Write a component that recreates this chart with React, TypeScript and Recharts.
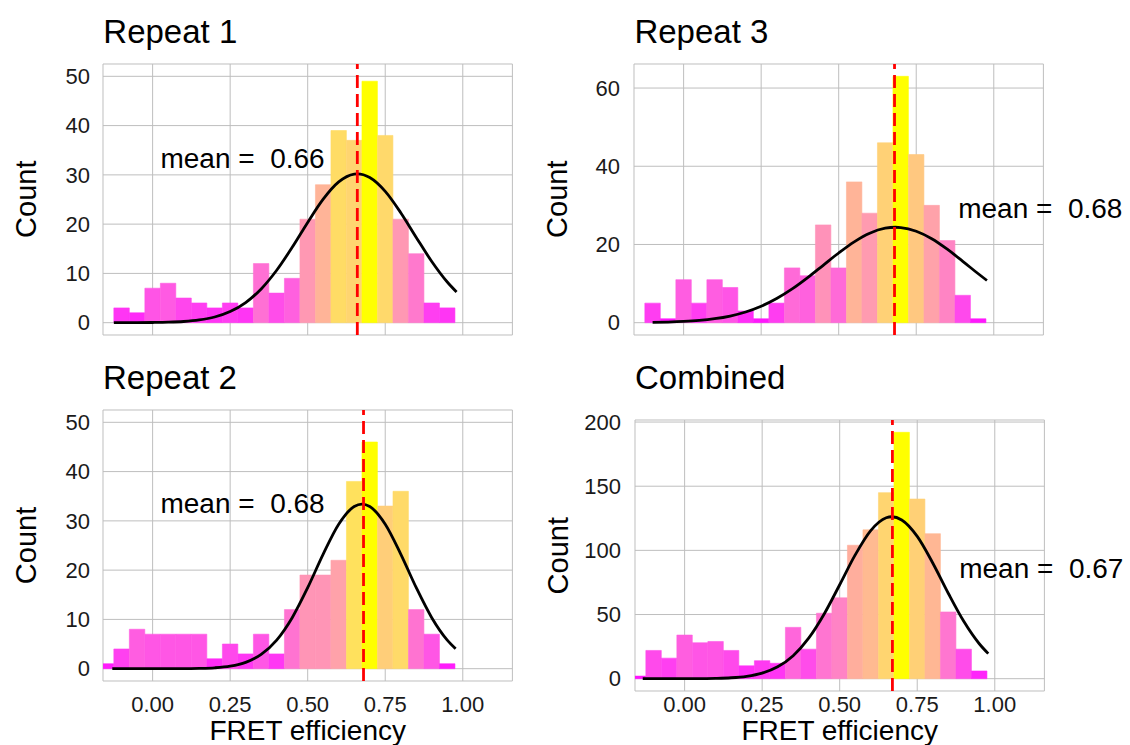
import {
  ComposedChart,
  Bar,
  Cell,
  Line,
  XAxis,
  YAxis,
  CartesianGrid,
  ReferenceLine,
  ReferenceDot,
} from "recharts";

const FONT = '"Liberation Sans", Arial, Helvetica, sans-serif';

// histogram bin centres, bin width 0.05
const BINS_FROM_M010 = [
  -0.1, -0.05, 0, 0.05, 0.1, 0.15, 0.2, 0.25, 0.3, 0.35, 0.4, 0.45, 0.5, 0.55,
  0.6, 0.65, 0.7, 0.75, 0.8, 0.85, 0.9, 0.95, 1.0,
];
const BINS_FROM_M015 = [
  -0.15, -0.1, -0.05, 0, 0.05, 0.1, 0.15, 0.2, 0.25, 0.3, 0.35, 0.4, 0.45, 0.5,
  0.55, 0.6, 0.65, 0.7, 0.75, 0.8, 0.85, 0.9, 0.95, 1.0,
];

const REPEAT1_COUNTS = [3, 2, 7, 8, 5, 4, 3, 4, 3, 12, 6, 9, 21, 28, 39, 37, 49, 38, 21, 14, 4, 3, 0];
const REPEAT3_COUNTS = [5, 1, 11, 5, 11, 9, 3, 1, 5, 14, 12, 25, 14, 36, 28, 46, 63, 43, 30, 21, 7, 1, 0];
const REPEAT2_COUNTS = [1, 4, 8, 7, 7, 7, 7, 2, 5, 3, 7, 3, 12, 19, 19, 22, 38, 46, 33, 36, 12, 7, 1, 0];
const COMBINED_COUNTS = [2, 22, 16, 34, 28, 29, 22, 10, 14, 12, 40, 23, 51, 63, 104, 116, 145, 192, 140, 113, 52, 23, 6, 0];

// fitted normal curves (x, count)
const REPEAT1_FIT_X = [-0.125, -0.1, -0.05, 0, 0.05, 0.1, 0.15, 0.2, 0.25, 0.3, 0.35, 0.4, 0.45, 0.5, 0.55, 0.6, 0.65, 0.66, 0.7, 0.75, 0.8, 0.85, 0.9, 0.95, 0.98];
const REPEAT1_FIT_Y = [0, 0, 0.01, 0.04, 0.1, 0.24, 0.55, 1.15, 2.26, 4.09, 6.85, 10.64, 15.29, 20.35, 25.07, 28.57, 30.15, 30.2, 29.46, 26.65, 22.32, 17.3, 12.42, 8.25, 6.22];

const REPEAT3_FIT_X = [-0.1, -0.05, 0, 0.05, 0.1, 0.15, 0.2, 0.25, 0.3, 0.35, 0.4, 0.45, 0.5, 0.55, 0.6, 0.65, 0.683, 0.7, 0.75, 0.8, 0.85, 0.9, 0.95, 0.978];
const REPEAT3_FIT_Y = [0.08, 0.16, 0.31, 0.57, 1.01, 1.7, 2.74, 4.21, 6.17, 8.63, 11.52, 14.67, 17.82, 20.67, 22.87, 24.15, 24.4, 24.33, 23.39, 21.47, 18.79, 15.69, 12.51, 10.79];

const REPEAT2_FIT_X = [-0.13, -0.1, -0.05, 0, 0.05, 0.1, 0.15, 0.2, 0.25, 0.3, 0.35, 0.4, 0.45, 0.5, 0.55, 0.6, 0.65, 0.675, 0.7, 0.75, 0.8, 0.85, 0.9, 0.95, 0.977];
const REPEAT2_FIT_Y = [0, 0, 0, 0, 0, 0.02, 0.06, 0.18, 0.51, 1.29, 2.9, 5.8, 10.35, 16.44, 23.26, 29.32, 32.92, 33.4, 32.92, 29.32, 23.26, 16.44, 10.35, 5.8, 4.05];

const COMBINED_FIT_X = [-0.135, -0.1, -0.05, 0, 0.05, 0.1, 0.15, 0.2, 0.25, 0.3, 0.35, 0.4, 0.45, 0.5, 0.55, 0.6, 0.65, 0.668, 0.7, 0.75, 0.8, 0.85, 0.9, 0.95, 0.979];
const COMBINED_FIT_Y = [0, 0, 0.01, 0.02, 0.08, 0.25, 0.71, 1.85, 4.34, 9.26, 17.93, 31.59, 50.46, 73.22, 96.47, 115.4, 125.4, 126.2, 123.7, 110.9, 90.17, 66.6, 44.69, 27.22, 19.53];

const MEANS = { repeat1: 0.66, repeat2: 0.68, repeat3: 0.68, combined: 0.67 };

const X_TICKS = [0, 0.25, 0.5, 0.75, 1.0];
const Y_TICKS_50 = [0, 10, 20, 30, 40, 50];
const Y_TICKS_60 = [0, 20, 40, 60];
const Y_TICKS_200 = [0, 50, 100, 150, 200];

// layout
const X_DOMAIN: [number, number] = [-0.16, 1.16];
const BIN_W = 0.05;
const PLOT_W = 409.4;
const PLOT_H = 271;
const Y_AXIS_W = 80;
const TOP_PAD = 10;
const RIGHT_PAD = 95;
const X_AXIS_H = 45;
const BOTTOM_PAD = 10;

// magenta -> yellow gradient interpolated in CIE Lab
const toLin = (c: number) => {
  const v = c / 255;
  return v <= 0.04045 ? v / 12.92 : Math.pow((v + 0.055) / 1.055, 2.4);
};
const toSrgb = (c: number) => {
  const v = c <= 0.0031308 ? 12.92 * c : 1.055 * Math.pow(c, 1 / 2.4) - 0.055;
  return Math.round(Math.min(1, Math.max(0, v)) * 255);
};
const WHITE = [0.95047, 1, 1.08883];
const fLab = (t: number) => (t > 0.008856 ? Math.cbrt(t) : 7.787 * t + 16 / 116);
const fInv = (t: number) => (t > 0.206893 ? t * t * t : (t - 16 / 116) / 7.787);

function hexToLab(hex: string) {
  const r = toLin(parseInt(hex.slice(1, 3), 16));
  const g = toLin(parseInt(hex.slice(3, 5), 16));
  const b = toLin(parseInt(hex.slice(5, 7), 16));
  const x = (0.4124 * r + 0.3576 * g + 0.1805 * b) / WHITE[0];
  const y = (0.2126 * r + 0.7152 * g + 0.0722 * b) / WHITE[1];
  const z = (0.0193 * r + 0.1192 * g + 0.9505 * b) / WHITE[2];
  const fx = fLab(x), fy = fLab(y), fz = fLab(z);
  return [116 * fy - 16, 500 * (fx - fy), 200 * (fy - fz)];
}

function labToHex([L, a, b]: number[]) {
  const fy = (L + 16) / 116;
  const x = fInv(fy + a / 500) * WHITE[0];
  const y = fInv(fy) * WHITE[1];
  const z = fInv(fy - b / 200) * WHITE[2];
  const r = 3.2406 * x - 1.5372 * y - 0.4986 * z;
  const g = -0.9689 * x + 1.8758 * y + 0.0415 * z;
  const bl = 0.0557 * x - 0.204 * y + 1.057 * z;
  const h = (v: number) => toSrgb(v).toString(16).padStart(2, "0");
  return `#${h(r)}${h(g)}${h(bl)}`;
}

const LOW = hexToLab("#FF00FF");
const HIGH = hexToLab("#FFFF00");
const gradientFill = (t: number) =>
  labToHex(LOW.map((v, i) => v + (HIGH[i] - v) * t));

interface PanelSpec {
  title: string;
  bins: number[];
  counts: number[];
  fitX: number[];
  fitY: number[];
  mean: number;
  yTicks: number[];
  yDomain: [number, number];
  note: { x: number; y: number };
  plotLeft: number;
  plotTop: number;
  titleY: number;
  showX: boolean;
  xTickGap: number;
  yTickGap: number;
}

const PANELS: PanelSpec[] = [
  {
    title: "Repeat 1",
    bins: BINS_FROM_M010,
    counts: REPEAT1_COUNTS,
    fitX: REPEAT1_FIT_X,
    fitY: REPEAT1_FIT_Y,
    mean: MEANS.repeat1,
    yTicks: Y_TICKS_50,
    yDomain: [-2.5, 52.5],
    note: { x: 0.29, y: 33.5 },
    plotLeft: 103.3,
    plotTop: 63.7,
    titleY: 42.7,
    showX: false,
    xTickGap: 16,
    yTickGap: 13,
  },
  {
    title: "Repeat 3",
    bins: BINS_FROM_M010,
    counts: REPEAT3_COUNTS,
    fitX: REPEAT3_FIT_X,
    fitY: REPEAT3_FIT_Y,
    mean: MEANS.repeat3,
    yTicks: Y_TICKS_60,
    yDomain: [-3.15, 66.15],
    note: { x: 1.15, y: 29.3 },
    plotLeft: 634.4,
    plotTop: 63.7,
    titleY: 42.7,
    showX: false,
    xTickGap: 16,
    yTickGap: 14,
  },
  {
    title: "Repeat 2",
    bins: BINS_FROM_M015,
    counts: REPEAT2_COUNTS,
    fitX: REPEAT2_FIT_X,
    fitY: REPEAT2_FIT_Y,
    mean: MEANS.repeat2,
    yTicks: Y_TICKS_50,
    yDomain: [-2.5, 52.5],
    note: { x: 0.29, y: 33.6 },
    plotLeft: 103,
    plotTop: 410,
    titleY: 388.7,
    showX: true,
    xTickGap: 15,
    yTickGap: 13,
  },
  {
    title: "Combined",
    bins: BINS_FROM_M015,
    counts: COMBINED_COUNTS,
    fitX: COMBINED_FIT_X,
    fitY: COMBINED_FIT_Y,
    mean: MEANS.combined,
    yTicks: Y_TICKS_200,
    yDomain: [-9.6, 201.6],
    note: { x: 1.15, y: 86.5 },
    plotLeft: 635,
    plotTop: 420.2,
    titleY: 388.7,
    showX: true,
    xTickGap: 5,
    yTickGap: 14,
  },
];

const tickStyle = { fontSize: 22, fill: "#1a1a1a", fontFamily: FONT };

function HistPanel({ p }: { p: PanelSpec }) {
  const data = p.bins.map((x, i) => ({ x, count: p.counts[i] }));
  const fit = p.fitX.map((x, i) => ({ x, y: p.fitY[i] }));
  const lo = Math.min(...p.counts);
  const hi = Math.max(...p.counts);
  // a hair under the bin spacing, otherwise recharts falls back to 90% width bars
  const barSize = ((BIN_W * PLOT_W) / (X_DOMAIN[1] - X_DOMAIN[0])) * 0.995;
  const width = Y_AXIS_W + PLOT_W + RIGHT_PAD;
  const height = TOP_PAD + PLOT_H + (p.showX ? X_AXIS_H : BOTTOM_PAD);

  return (
    <div
      style={{
        position: "absolute",
        left: p.plotLeft - Y_AXIS_W,
        top: p.plotTop - TOP_PAD,
      }}
    >
      <ComposedChart
        width={width}
        height={height}
        data={data}
        margin={{
          top: TOP_PAD,
          right: RIGHT_PAD,
          bottom: p.showX ? 0 : BOTTOM_PAD,
          left: 0,
        }}
        barCategoryGap={0}
        barGap={0}
      >
        <CartesianGrid stroke="#bebebe" strokeWidth={1} />
        <XAxis
          type="number"
          dataKey="x"
          domain={X_DOMAIN}
          ticks={X_TICKS}
          allowDataOverflow
          interval={0}
          tickFormatter={(v: number) => v.toFixed(2)}
          axisLine={false}
          tickLine={false}
          tickSize={0}
          tickMargin={p.xTickGap}
          height={X_AXIS_H}
          hide={!p.showX}
          tick={tickStyle}
        />
        {/* separate hidden x axis for the fitted curve so its points don't narrow the bars */}
        <XAxis
          xAxisId="fit"
          type="number"
          dataKey="x"
          domain={X_DOMAIN}
          allowDataOverflow
          hide
        />
        <YAxis
          type="number"
          domain={p.yDomain}
          ticks={p.yTicks}
          allowDataOverflow
          interval={0}
          axisLine={false}
          tickLine={false}
          tickSize={0}
          tickMargin={p.yTickGap}
          width={Y_AXIS_W}
          tick={tickStyle}
        />
        <Bar dataKey="count" barSize={barSize} isAnimationActive={false}>
          {data.map((d, i) => {
            const c = gradientFill((d.count - lo) / (hi - lo));
            // same-colour outline closes the hairline seams between bins
            return <Cell key={i} fill={c} stroke={c} strokeWidth={0.6} />;
          })}
        </Bar>
        <Line
          xAxisId="fit"
          data={fit}
          dataKey="y"
          type="monotone"
          stroke="#000"
          strokeWidth={2.8}
          dot={false}
          activeDot={false}
          isAnimationActive={false}
        />
        <ReferenceLine
          x={p.mean}
          stroke="#ff0000"
          strokeWidth={2.8}
          strokeDasharray="13 6"
        />
        <ReferenceDot
          x={p.note.x}
          y={p.note.y}
          r={0}
          fill="none"
          stroke="none"
          ifOverflow="visible"
          label={{
            value: `mean = \u00A0${p.mean.toFixed(2)}`,
            position: "center",
            fontSize: 28,
            fill: "#000",
            fontFamily: FONT,
          }}
        />
      </ComposedChart>
    </div>
  );
}

export default function App() {
  return (
    <div
      style={{
        position: "absolute",
        left: 0,
        top: 0,
        width: 1130,
        height: 745,
        background: "#fff",
        overflow: "hidden",
        fontFamily: FONT,
      }}
    >
      {PANELS.map((p) => (
        <HistPanel key={p.title} p={p} />
      ))}
      <svg
        width={1130}
        height={745}
        style={{ position: "absolute", left: 0, top: 0, pointerEvents: "none" }}
      >
        {PANELS.map((p) => (
          <g key={p.title} fontFamily={FONT} fill="#000">
            <text x={p.plotLeft} y={p.titleY} fontSize={33}>
              {p.title}
            </text>
            <text
              x={p.plotLeft - 77}
              y={p.plotTop + PLOT_H / 2}
              fontSize={29}
              textAnchor="middle"
              dominantBaseline="central"
              transform={`rotate(-90 ${p.plotLeft - 77} ${p.plotTop + PLOT_H / 2})`}
            >
              Count
            </text>
            {p.showX && (
              <text
                x={p.plotLeft + PLOT_W / 2}
                y={740}
                fontSize={28}
                textAnchor="middle"
              >
                FRET efficiency
              </text>
            )}
          </g>
        ))}
      </svg>
    </div>
  );
}
